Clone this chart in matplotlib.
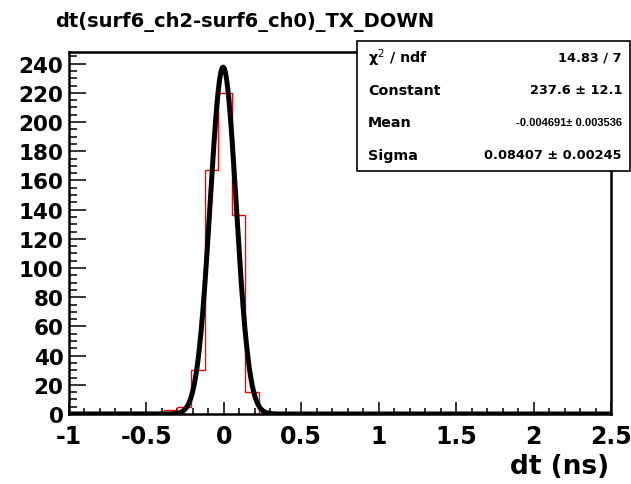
import numpy as np
import matplotlib
matplotlib.use("Agg")
import matplotlib.pyplot as plt
from matplotlib.patches import Rectangle
from matplotlib.ticker import MultipleLocator

# ---- data ----
title = "dt(surf6_ch2-surf6_ch0)_TX_DOWN"
x_label = "dt (ns)"
hist_low, hist_high, n_bins = -1.0, 2.5, 40
counts = [0, 0, 0, 0, 0, 0, 1, 3, 5, 30,
          167, 220, 136, 15, 0, 0, 0, 0, 0, 0,
          0, 0, 0, 0, 0, 0, 0, 0, 0, 0,
          0, 0, 0, 0, 0, 0, 0, 0, 0, 0]
fit_constant = 237.6
fit_mean = -0.004691
fit_sigma = 0.08407
stats_labels = ["χ$^{2}$ / ndf", "Constant", "Mean", "Sigma"]
stats_values = ["14.83 / 7", "237.6 ± 12.1", "-0.004691± 0.003536", "0.08407 ± 0.00245"]
x_ticks = [-1, -0.5, 0, 0.5, 1, 1.5, 2, 2.5]
x_tick_labels = ["-1", "-0.5", "0", "0.5", "1", "1.5", "2", "2.5"]
y_ticks = list(range(0, 241, 20))

W, H = 631, 485
fig = plt.figure(figsize=(W / 100, H / 100), dpi=100)
fig.patch.set_facecolor("white")

L, R, T, B = 69, 611, 53, 415
ax = fig.add_axes([L / W, (H - B) / H, (R - L) / W, (B - T) / H])

edges = np.linspace(hist_low, hist_high, n_bins + 1)
ax.stairs(counts, edges, color="red", lw=1.0, zorder=2)

xf = np.linspace(hist_low, hist_high, 2000)
yf = fit_constant * np.exp(-0.5 * ((xf - fit_mean) / fit_sigma) ** 2)
ax.plot(xf, yf, color="black", lw=3.6, zorder=3, solid_capstyle="butt")

ax.set_xlim(hist_low, hist_high)
ax.set_ylim(0, 248)

ax.set_xticks(x_ticks)
ax.set_xticklabels(x_tick_labels)
ax.set_yticks(y_ticks)
ax.xaxis.set_minor_locator(MultipleLocator(0.1))
ax.yaxis.set_minor_locator(MultipleLocator(5))
ax.tick_params(axis="x", which="major", direction="in", length=8.6, width=1.1, pad=7)
ax.tick_params(axis="x", which="minor", direction="in", length=4.3, width=1.1)
ax.tick_params(axis="y", which="major", direction="in", length=12, width=1.1, pad=4)
ax.tick_params(axis="y", which="minor", direction="in", length=6, width=1.1)
ax.tick_params(top=False, right=False, which="both")

for lab in ax.get_xticklabels():
    lab.set_fontfamily("DejaVu Sans")
    lab.set_fontweight("bold")
    lab.set_fontsize(17)
for lab in ax.get_yticklabels():
    lab.set_fontfamily("DejaVu Sans")
    lab.set_fontweight("bold")
    lab.set_fontsize(15.5)

for s in ax.spines.values():
    s.set_linewidth(1.8)

fig.text(609 / W, (H - 474) / H, x_label, ha="right", va="baseline",
         fontsize=19, fontweight="bold", family="DejaVu Sans")
fig.text(55 / W, (H - 27) / H, title, ha="left", va="baseline",
         fontsize=14, fontweight="bold", family="DejaVu Sans")

# stats box
bx0, bx1, by0, by1 = 357, 630, 42, 172
fig.patches.append(Rectangle((bx0 / W, (H - by1) / H), (bx1 - bx0) / W, (by1 - by0) / H,
                             transform=fig.transFigure, facecolor="white",
                             edgecolor="black", lw=1.2, zorder=5))
row_h = (by1 - by0) / 4
for i, (lab, val) in enumerate(zip(stats_labels, stats_values)):
    yc = by0 + row_h * (i + 0.5)
    fig.text(368 / W, (H - yc) / H, lab, ha="left", va="center", fontsize=10.3,
             fontweight="bold", family="DejaVu Sans", zorder=6)
    if i == 2:
        fig.text(622 / W, (H - yc) / H, val, ha="right", va="center", fontsize=8.0,
                 fontweight="bold", family="Liberation Sans", zorder=6)
    else:
        fig.text(622 / W, (H - yc) / H, val, ha="right", va="center", fontsize=9.3,
                 fontweight="bold", family="DejaVu Sans", zorder=6)

fig.savefig("out.png", dpi=100)
